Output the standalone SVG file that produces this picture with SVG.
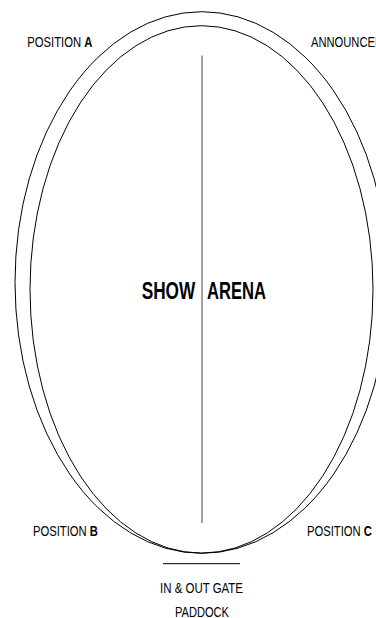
<svg xmlns="http://www.w3.org/2000/svg" width="376" height="618" viewBox="0 0 376 618">
<style>
.ring{fill:none;stroke:#000;stroke-width:1}
.lbl{font-family:"Liberation Sans",Arial,sans-serif;font-size:14px;fill:#000}
.b{font-weight:bold}
.title{font-family:"Liberation Sans",Arial,sans-serif;font-size:24px;font-weight:bold;fill:#000}
</style>
<rect width="376" height="618" fill="#fff"/>
<g id="arena">
<ellipse class="ring" cx="201.7" cy="282.5" rx="186.7" ry="270.8"/>
<ellipse class="ring" cx="201.5" cy="289.4" rx="171.5" ry="263.7"/>
<text class="title" y="299"><tspan x="141.7" textLength="53.5" lengthAdjust="spacingAndGlyphs">SHOW</tspan> <tspan x="207" textLength="59" lengthAdjust="spacingAndGlyphs">ARENA</tspan></text>
</g>
<g id="connectors">
<line x1="202" y1="55.5" x2="202" y2="523" stroke="#444" stroke-width="1"/>
<line x1="163" y1="563.7" x2="240" y2="563.7" stroke="#000" stroke-width="1"/>
</g>
<g id="position-a"><text class="lbl" x="27.3" y="46.7" textLength="65" lengthAdjust="spacingAndGlyphs">POSITION <tspan class="b">A</tspan></text></g>
<g id="announcer"><text class="lbl" x="311" y="46.7" textLength="72" lengthAdjust="spacingAndGlyphs">ANNOUNCER</text></g>
<g id="position-b"><text class="lbl" x="33" y="536.3" textLength="65" lengthAdjust="spacingAndGlyphs">POSITION <tspan class="b">B</tspan></text></g>
<g id="position-c"><text class="lbl" x="307" y="536.3" textLength="65" lengthAdjust="spacingAndGlyphs">POSITION <tspan class="b">C</tspan></text></g>
<g id="gate"><text class="lbl" x="160" y="593" textLength="83" lengthAdjust="spacingAndGlyphs">IN &amp; OUT GATE</text></g>
<g id="paddock"><text class="lbl" x="175" y="616.5" textLength="54" lengthAdjust="spacingAndGlyphs">PADDOCK</text></g>
</svg>
